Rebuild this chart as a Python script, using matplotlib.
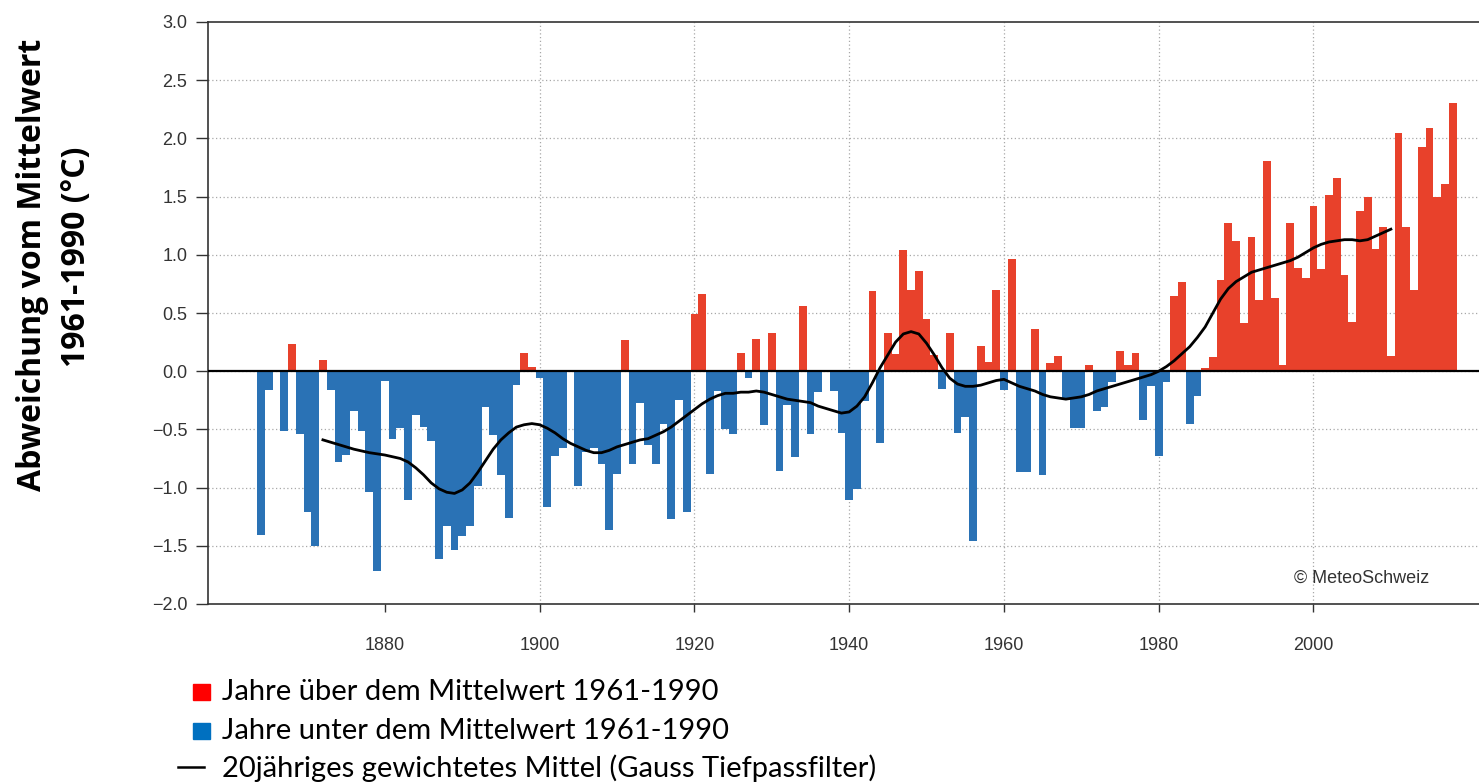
import numpy as np
import matplotlib
matplotlib.use("Agg")
import matplotlib.pyplot as plt
from matplotlib.patches import Rectangle
from matplotlib.lines import Line2D

# Jahresabweichungen vom Mittel 1961-1990 (°C), 1864-2018
years = np.arange(1864, 2019)
anomaly = [
    -1.41, -0.16, -0.01, -0.51, 0.23, -0.54,
    -1.21, -1.50, 0.10, -0.16, -0.78, -0.72, -0.34, -0.51, -1.04, -1.72,
    -0.08, -0.58, -0.49, -1.11, -0.38, -0.48, -0.60, -1.61, -1.33, -1.54,
    -1.42, -1.33, -0.99, -0.31, -0.55, -0.89, -1.26, -0.12, 0.16, 0.04,
    -0.06, -1.17, -0.73, -0.66, 0.01, -0.99, -0.69, -0.66, -0.80, -1.36,
    -0.88, 0.27, -0.80, -0.27, -0.63, -0.80, -0.45, -1.27, -0.25, -1.21,
    0.49, 0.66, -0.88, -0.17, -0.50, -0.54, 0.16, -0.06, 0.28, -0.46,
    0.33, -0.86, -0.29, -0.74, 0.56, -0.54, -0.18, -0.01, -0.17, -0.53,
    -1.11, -1.01, -0.26, 0.69, -0.62, 0.33, 0.15, 1.04, 0.70, 0.86,
    0.45, 0.14, -0.15, 0.33, -0.53, -0.39, -1.46, 0.22, 0.08, 0.70,
    -0.16, 0.96, -0.87, -0.87, 0.36, -0.89, 0.07, 0.13, -0.23, -0.49,
    -0.49, 0.05, -0.34, -0.31, -0.09, 0.17, 0.05, 0.16, -0.42, -0.13,
    -0.73, -0.09, 0.65, 0.77, -0.45, -0.21, 0.03, 0.12, 0.78, 1.27,
    1.12, 0.41, 1.15, 0.61, 1.81, 0.63, 0.05, 1.27, 0.89, 0.80,
    1.42, 0.88, 1.51, 1.66, 0.83, 0.42, 1.38, 1.50, 1.05, 1.24,
    0.13, 2.05, 1.24, 0.70, 1.93, 2.09, 1.50, 1.61, 2.30,
]

# 20jaehriges gewichtetes Mittel
smooth_years = [1872, 1874, 1876, 1878, 1880, 1882] + list(range(1883, 2011))
smooth_vals = [
    -0.59, -0.63, -0.67, -0.70, -0.72, -0.75,
    -0.78, -0.83, -0.89, -0.96, -1.01, -1.04, -1.05,
    -1.02, -0.96, -0.87, -0.77, -0.67, -0.59, -0.53, -0.48, -0.46, -0.45,
    -0.46, -0.49, -0.53, -0.58, -0.62, -0.65, -0.68, -0.70, -0.70, -0.68,
    -0.65, -0.63, -0.61, -0.59, -0.58, -0.55, -0.52, -0.48, -0.43, -0.38,
    -0.33, -0.28, -0.24, -0.21, -0.19, -0.19, -0.18, -0.18, -0.17, -0.18,
    -0.20, -0.22, -0.24, -0.25, -0.26, -0.27, -0.30, -0.32, -0.34, -0.36,
    -0.35, -0.30, -0.22, -0.10, 0.03, 0.14, 0.25, 0.32, 0.34, 0.32,
    0.24, 0.14, 0.03, -0.06, -0.11, -0.13, -0.13, -0.12, -0.10, -0.08,
    -0.07, -0.10, -0.13, -0.15, -0.17, -0.20, -0.22, -0.23, -0.24, -0.23,
    -0.22, -0.20, -0.17, -0.15, -0.13, -0.11, -0.09, -0.07, -0.05, -0.03,
    0.00, 0.04, 0.09, 0.15, 0.21, 0.29, 0.38, 0.50, 0.62, 0.71,
    0.77, 0.81, 0.85, 0.87, 0.89, 0.91, 0.93, 0.95, 0.98, 1.02,
    1.06, 1.09, 1.11, 1.12, 1.13, 1.13, 1.12, 1.13, 1.16, 1.19,
    1.22,
]

y_ticks = [-2.0, -1.5, -1.0, -0.5, 0.0, 0.5, 1.0, 1.5, 2.0, 2.5, 3.0]
x_ticks = [1880, 1900, 1920, 1940, 1960, 1980, 2000]

legend_texts = [
    "Jahre über dem Mittelwert 1961-1990",
    "Jahre unter dem Mittelwert 1961-1990",
    "20jähriges gewichtetes Mittel (Gauss Tiefpassfilter)",
]

red = "#e8412b"
blue = "#2a72b5"

fig = plt.figure(figsize=(14.79, 7.83), dpi=100)
ax = fig.add_axes([208 / 1479, 1 - 604 / 783, 1 - 208 / 1479 + 0.01, (604 - 22) / 783])

vals = np.array(anomaly)
colors = np.where(vals >= 0, red, blue)
ax.bar(years, vals, width=1.0, color=colors, linewidth=0, zorder=2)
ax.axhline(0, color="black", linewidth=1.6, zorder=3)
ax.plot(smooth_years, smooth_vals, color="black", linewidth=2.0, zorder=4)

ax.set_xlim(1857.15, 2023.3)
ax.set_ylim(-2.0, 3.0)
ax.set_yticks(y_ticks)
ax.set_yticklabels([f"{v:.1f}".replace("-", "\u2212") for v in y_ticks])
ax.set_xticks(x_ticks)

for v in y_ticks[1:-1]:
    ax.axhline(v, color="#a8a8a8", linewidth=0.9, linestyle=(0, (1, 2)), zorder=1)
for yr in x_ticks[1:]:
    ax.axvline(yr, color="#a8a8a8", linewidth=0.9, linestyle=(0, (1, 2)), zorder=1)

for side in ["left", "top", "bottom"]:
    ax.spines[side].set_color("#333333")
    ax.spines[side].set_linewidth(1.2)
ax.spines["right"].set_visible(False)

ax.tick_params(axis="y", direction="out", length=9, width=1.0, color="#333333",
               labelsize=13, labelcolor="#333333", pad=6)
ax.tick_params(axis="x", direction="out", length=6, width=1.0, color="#333333",
               labelsize=13, labelcolor="#333333", pad=18)
for lab in ax.get_xticklabels() + ax.get_yticklabels():
    lab.set_fontfamily("Liberation Sans")

ax.text(2015.0, -1.78, "© MeteoSchweiz", fontsize=13, color="#333333",
        family="Liberation Sans", ha="right", va="center")

fig.text(33 / 1479, 1 - 265 / 783, "Abweichung vom Mittelwert", rotation=90,
         fontsize=23, fontweight="bold", family="Open Sans", ha="center", va="center")
fig.text(77 / 1479, 1 - 257 / 783, "1961-1990 (°C)", rotation=90,
         fontsize=23, fontweight="bold", family="Open Sans", ha="center", va="center")

# Legende
row_y = [692, 731, 768]
fig.patches.append(Rectangle((193 / 1479, 1 - 700 / 783), 17 / 1479, 16 / 783,
                             transform=fig.transFigure, color="#ff0000"))
fig.patches.append(Rectangle((193 / 1479, 1 - 739 / 783), 17 / 1479, 16 / 783,
                             transform=fig.transFigure, color="#0070c0"))
fig.lines.append(Line2D([178 / 1479, 204 / 1479], [1 - 767 / 783, 1 - 767 / 783],
                        transform=fig.transFigure, color="black", linewidth=1.8))
for txt, yy in zip(legend_texts, row_y):
    fig.text(222 / 1479, 1 - yy / 783, txt, fontsize=21, family="Lato",
             ha="left", va="center")

fig.savefig("out.png", dpi=100)
